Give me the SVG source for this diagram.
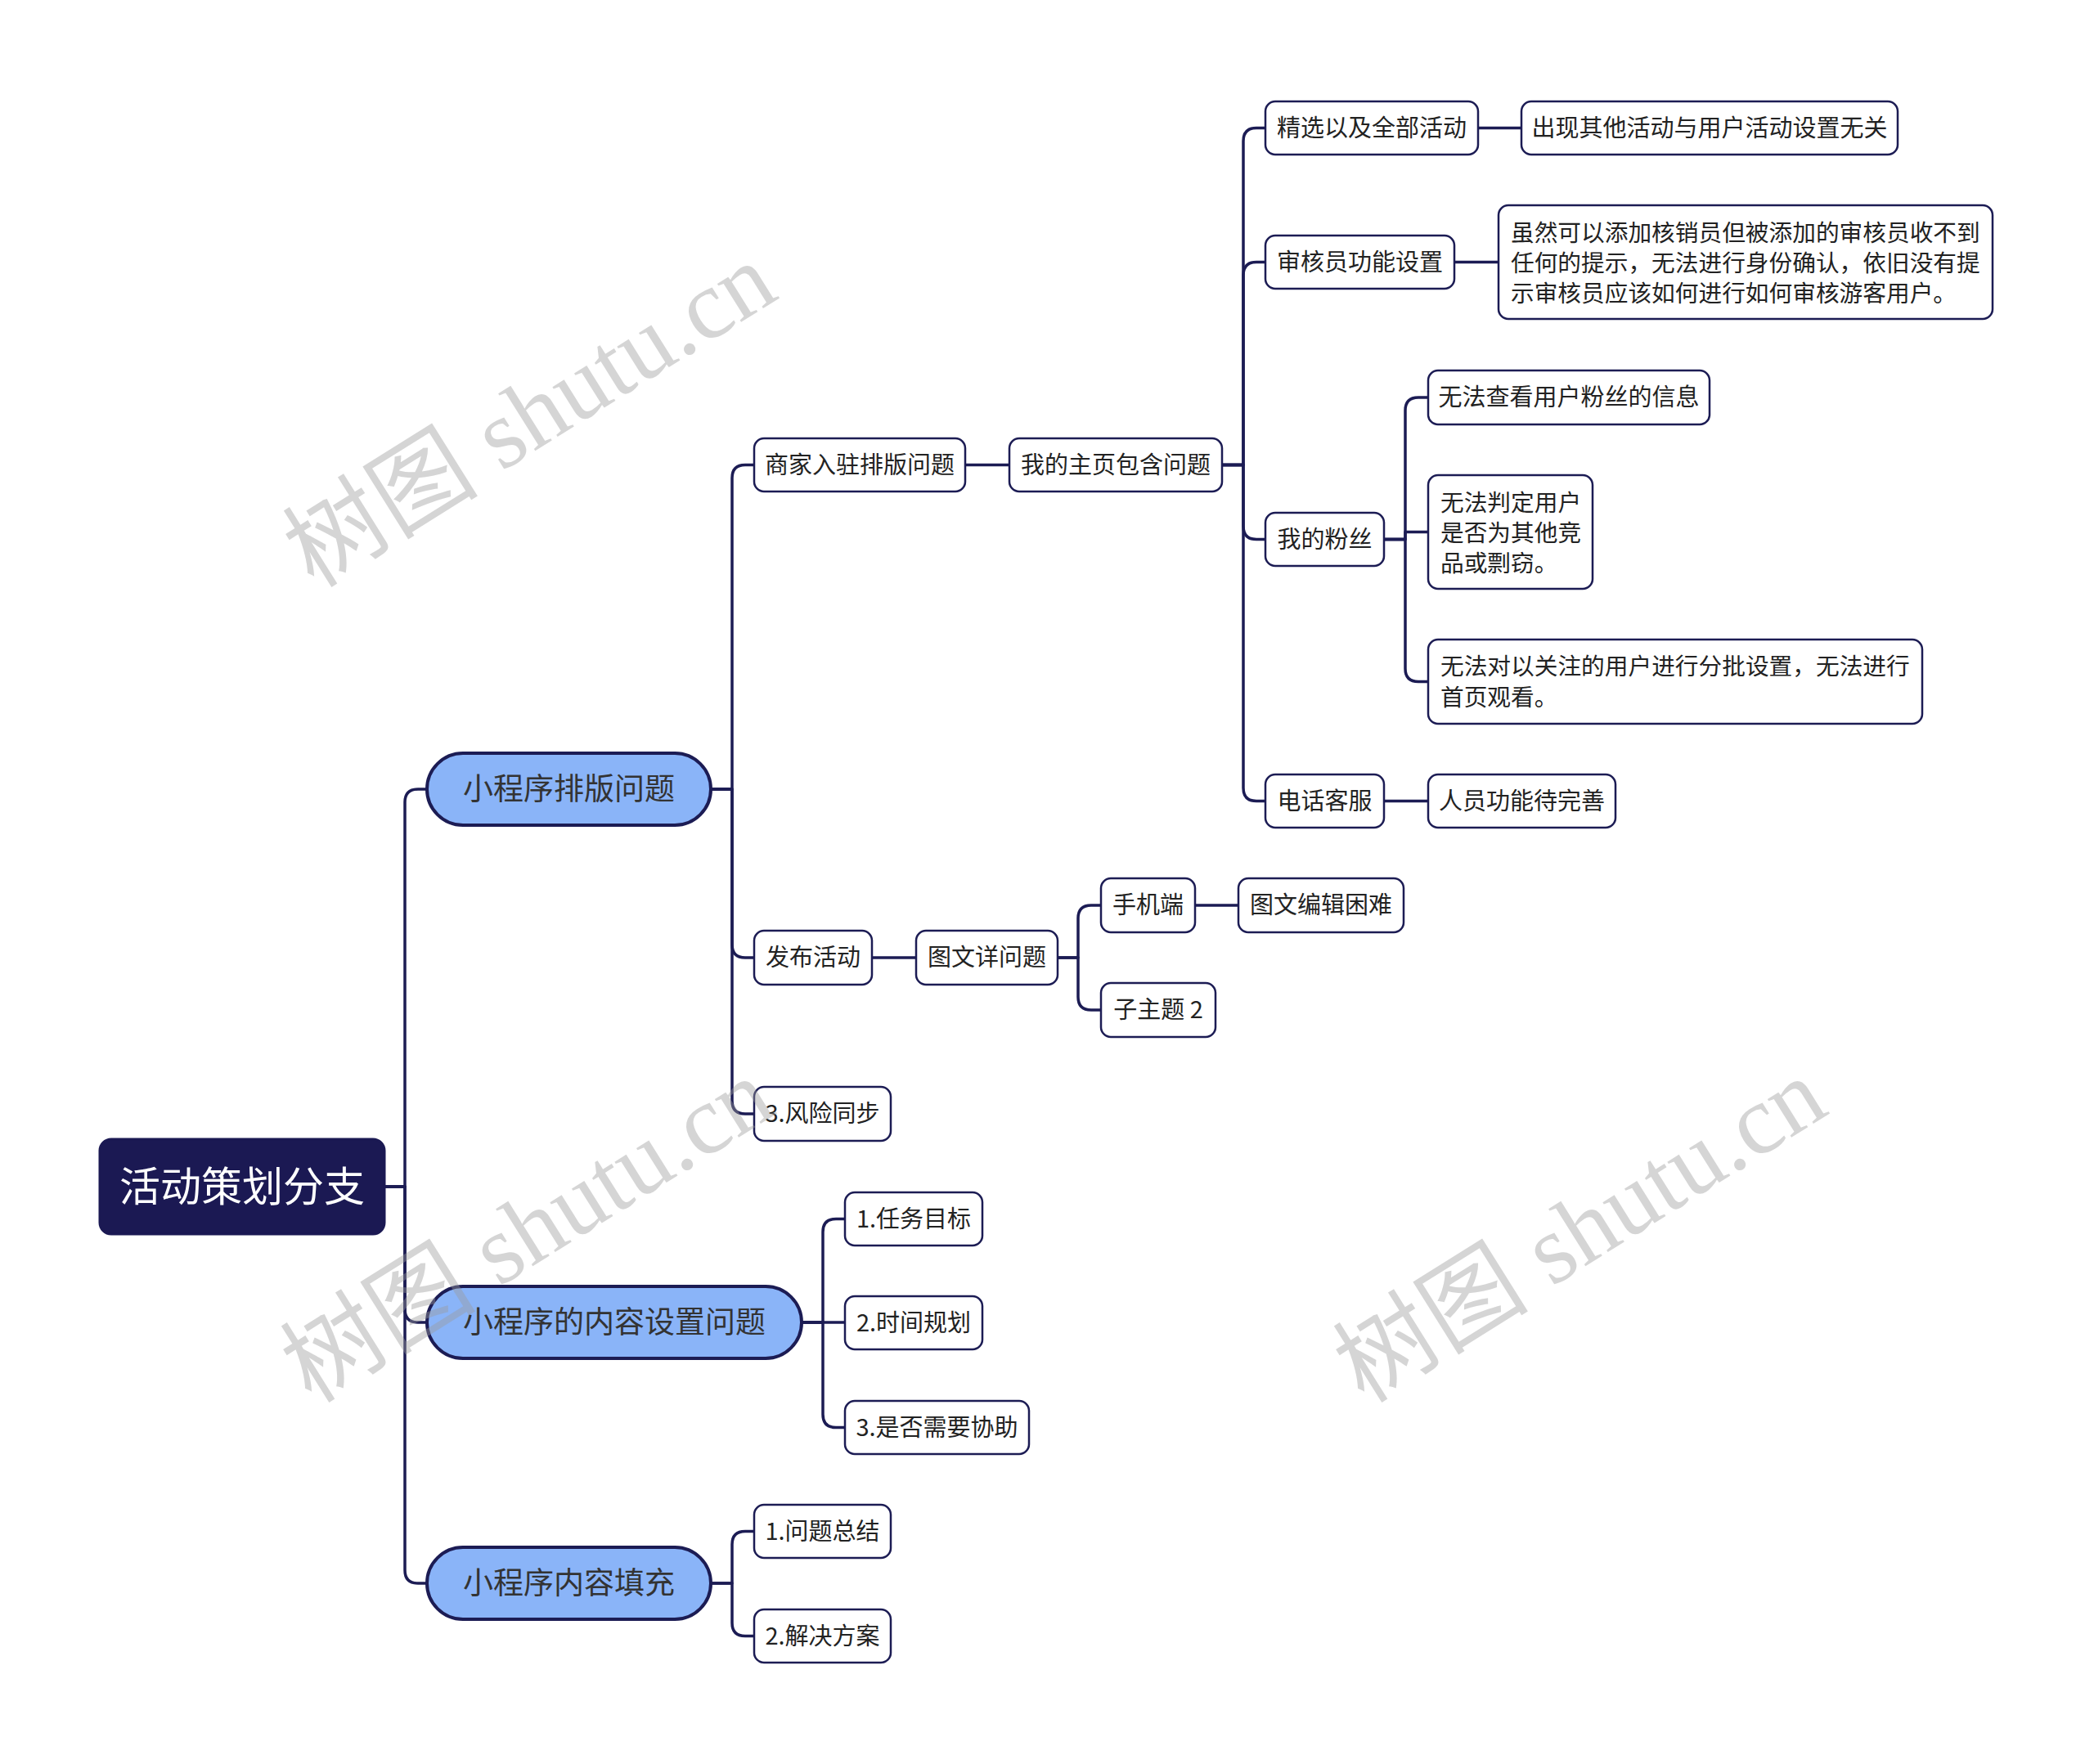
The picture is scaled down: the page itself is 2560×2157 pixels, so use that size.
<svg xmlns="http://www.w3.org/2000/svg" width="2560" height="2157" viewBox="0 0 2560 2157">
<style>
.root{fill:#1b1953;stroke:#1b1953;stroke-width:3}
.pill{fill:#8ab4f8;stroke:#1c1c54;stroke-width:4}
.node{fill:#ffffff;stroke:#1c1c54;stroke-width:2.5}
.t{font-family:"Noto Sans CJK SC","Noto Sans",sans-serif;fill:#222222;font-size:29px}
.tm{font-size:28.7px}
.tc{text-anchor:middle}
.tr{font-family:"Noto Sans CJK SC","Noto Sans",sans-serif;fill:#ffffff;font-size:50px;text-anchor:middle}
.tp{font-family:"Noto Sans CJK SC","Noto Sans",sans-serif;fill:#333333;font-size:37px;text-anchor:middle}
.c{fill:none;stroke:#1c1c54;stroke-width:3.5;stroke-linejoin:round}
.wm{font-family:"Liberation Serif","Noto Sans CJK SC",serif;font-size:120px;fill:#9a9a9a;fill-opacity:0.42;text-anchor:middle}
</style>
<rect width="2560" height="2157" fill="#ffffff"/>
<g id="connectors">
<path class="c" d="M470,1451 H495 V981 Q495,965 511,965 H522"/>
<path class="c" d="M470,1451 H495 V1601 Q495,1617 511,1617 H522"/>
<path class="c" d="M470,1451 H495 V1920 Q495,1936 511,1936 H522"/>
<path class="c" d="M869,965 H895 V584.5 Q895,568.5 911,568.5 H922"/>
<path class="c" d="M869,965 H895 V1155 Q895,1171 911,1171 H922"/>
<path class="c" d="M869,965 H895 V1346 Q895,1362 911,1362 H922"/>
<path class="c" d="M1180,568.5 H1234"/>
<path class="c" d="M1494,568.5 H1520 V172.5 Q1520,156.5 1536,156.5 H1547"/>
<path class="c" d="M1494,568.5 H1520 V336.5 Q1520,320.5 1536,320.5 H1547"/>
<path class="c" d="M1494,568.5 H1520 V643.5 Q1520,659.5 1536,659.5 H1547"/>
<path class="c" d="M1494,568.5 H1520 V963.5 Q1520,979.5 1536,979.5 H1547"/>
<path class="c" d="M1807,156.5 H1860"/>
<path class="c" d="M1778,320.5 H1832"/>
<path class="c" d="M1692,659.5 H1718 V502 Q1718,486 1734,486 H1746"/>
<path class="c" d="M1692,659.5 H1718 V650.5 H1746"/>
<path class="c" d="M1692,659.5 H1718 V817.5 Q1718,833.5 1734,833.5 H1746"/>
<path class="c" d="M1692,979.5 H1746"/>
<path class="c" d="M1066,1171 H1120"/>
<path class="c" d="M1293,1171 H1318 V1123 Q1318,1107 1334,1107 H1346"/>
<path class="c" d="M1293,1171 H1318 V1219 Q1318,1235 1334,1235 H1346"/>
<path class="c" d="M1461,1107 H1514"/>
<path class="c" d="M980,1617 H1006 V1506.5 Q1006,1490.5 1022,1490.5 H1033"/>
<path class="c" d="M980,1617 H1033"/>
<path class="c" d="M980,1617 H1006 V1729.5 Q1006,1745.5 1022,1745.5 H1033"/>
<path class="c" d="M869,1936 H895 V1888.5 Q895,1872.5 911,1872.5 H922"/>
<path class="c" d="M869,1936 H895 V1984.5 Q895,2000.5 911,2000.5 H922"/>
</g>
<g id="root"><rect class="root" x="122" y="1393" width="348" height="116" rx="14"/><text class="tr" x="296" y="1469">活动策划分支</text></g>
<g id="n1"><rect class="pill" x="522" y="921" width="347" height="88" rx="44"/><text class="tp" x="695.5" y="978">小程序排版问题</text></g>
<g id="n2"><rect class="pill" x="522" y="1573" width="458" height="88" rx="44"/><text class="tp" x="751" y="1630">小程序的内容设置问题</text></g>
<g id="n3"><rect class="pill" x="522" y="1892" width="347" height="88" rx="44"/><text class="tp" x="695.5" y="1949">小程序内容填充</text></g>
<g id="n1a"><rect class="node" x="922" y="536" width="258" height="65" rx="12"/><text class="t tc" x="1051" y="578.5">商家入驻排版问题</text></g>
<g id="n1a1"><rect class="node" x="1234" y="536" width="260" height="65" rx="12"/><text class="t tc" x="1364" y="578.5">我的主页包含问题</text></g>
<g id="n1a1a"><rect class="node" x="1547" y="124" width="260" height="65" rx="12"/><text class="t tc" x="1677" y="166.5">精选以及全部活动</text></g>
<g id="n1a1a1"><rect class="node" x="1860" y="124" width="460" height="65" rx="12"/><text class="t tc" x="2090" y="166.5">出现其他活动与用户活动设置无关</text></g>
<g id="n1a1b"><rect class="node" x="1547" y="288" width="231" height="65" rx="12"/><text class="t tc" x="1662.5" y="330.5">审核员功能设置</text></g>
<g id="n1a1b1"><rect class="node" x="1832" y="251" width="604" height="139" rx="12"/><text class="t tm" x="1847" y="295">虽然可以添加核销员但被添加的审核员收不到</text><text class="t tm" x="1847" y="332">任何的提示，无法进行身份确认，依旧没有提</text><text class="t tm" x="1847" y="369">示审核员应该如何进行如何审核游客用户。</text></g>
<g id="n1a1c"><rect class="node" x="1547" y="627" width="145" height="65" rx="12"/><text class="t tc" x="1619.5" y="669.5">我的粉丝</text></g>
<g id="n1a1c1"><rect class="node" x="1746" y="453" width="344" height="66" rx="12"/><text class="t tc" x="1918" y="496">无法查看用户粉丝的信息</text></g>
<g id="n1a1c2"><rect class="node" x="1746" y="581" width="201" height="139" rx="12"/><text class="t tm" x="1761" y="625">无法判定用户</text><text class="t tm" x="1761" y="662">是否为其他竞</text><text class="t tm" x="1761" y="699">品或剽窃。</text></g>
<g id="n1a1c3"><rect class="node" x="1746" y="782" width="604" height="103" rx="12"/><text class="t tm" x="1761" y="825">无法对以关注的用户进行分批设置，无法进行</text><text class="t tm" x="1761" y="863">首页观看。</text></g>
<g id="n1a1d"><rect class="node" x="1547" y="947" width="145" height="65" rx="12"/><text class="t tc" x="1619.5" y="989.5">电话客服</text></g>
<g id="n1a1d1"><rect class="node" x="1746" y="947" width="229" height="65" rx="12"/><text class="t tc" x="1860.5" y="989.5">人员功能待完善</text></g>
<g id="n1b"><rect class="node" x="922" y="1138" width="144" height="66" rx="12"/><text class="t tc" x="994" y="1181">发布活动</text></g>
<g id="n1b1"><rect class="node" x="1120" y="1138" width="173" height="66" rx="12"/><text class="t tc" x="1206.5" y="1181">图文详问题</text></g>
<g id="n1b1a"><rect class="node" x="1346" y="1074" width="115" height="66" rx="12"/><text class="t tc" x="1403.5" y="1117">手机端</text></g>
<g id="n1b1a1"><rect class="node" x="1514" y="1074" width="202" height="66" rx="12"/><text class="t tc" x="1615" y="1117">图文编辑困难</text></g>
<g id="n1b1b"><rect class="node" x="1346" y="1202" width="140" height="66" rx="12"/><text class="t tc" x="1416" y="1245">子主题 2</text></g>
<g id="n1c"><rect class="node" x="922" y="1329" width="167" height="66" rx="12"/><text class="t tc" x="1005.5" y="1372">3.风险同步</text></g>
<g id="n2a"><rect class="node" x="1033" y="1458" width="168" height="65" rx="12"/><text class="t tc" x="1117" y="1500.5">1.任务目标</text></g>
<g id="n2b"><rect class="node" x="1033" y="1585" width="168" height="65" rx="12"/><text class="t tc" x="1117" y="1627.5">2.时间规划</text></g>
<g id="n2c"><rect class="node" x="1033" y="1713" width="225" height="65" rx="12"/><text class="t tc" x="1145.5" y="1755.5">3.是否需要协助</text></g>
<g id="n3a"><rect class="node" x="922" y="1840" width="167" height="65" rx="12"/><text class="t tc" x="1005.5" y="1882.5">1.问题总结</text></g>
<g id="n3b"><rect class="node" x="922" y="1968" width="167" height="65" rx="12"/><text class="t tc" x="1005.5" y="2010.5">2.解决方案</text></g>
<g id="watermarks">
<text class="wm" transform="translate(648,508) rotate(-32)" y="40">树图 shutu.cn</text>
<text class="wm" transform="translate(645,1505) rotate(-32)" y="40">树图 shutu.cn</text>
<text class="wm" transform="translate(1932,1505) rotate(-32)" y="40">树图 shutu.cn</text>
</g>
</svg>
